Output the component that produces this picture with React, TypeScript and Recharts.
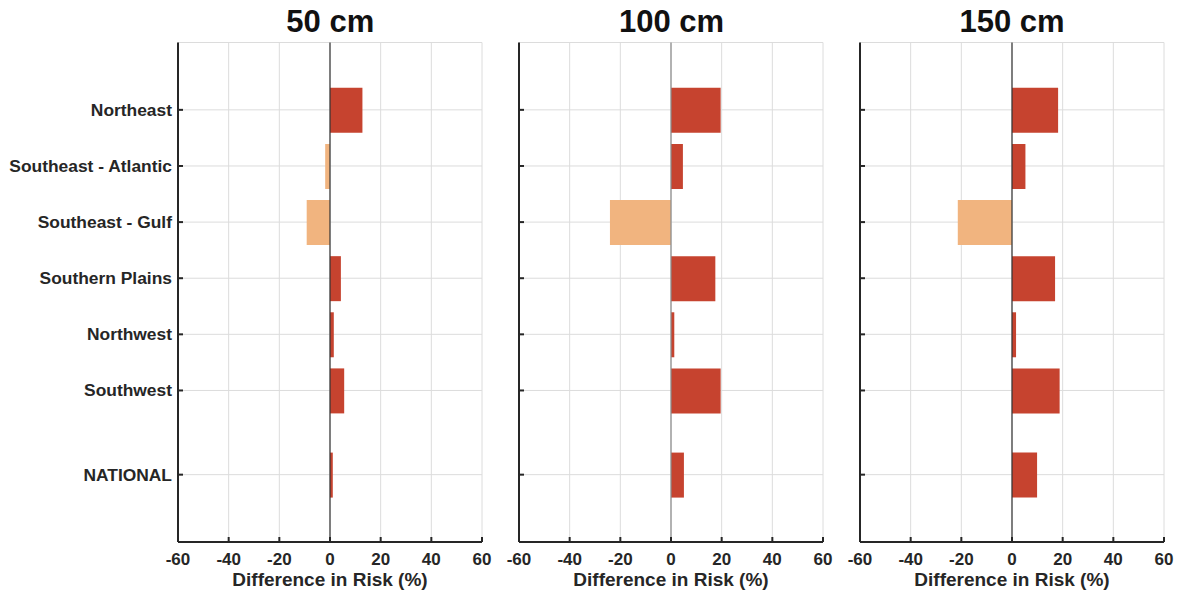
import React from 'react';
import { BarChart, Bar, XAxis, YAxis, CartesianGrid, ReferenceLine, Cell, Label } from 'recharts';

const regions = ['Northeast', 'Southeast - Atlantic', 'Southeast - Gulf', 'Southern Plains', 'Northwest', 'Southwest', 'NATIONAL'];
// row slots on the category axis (NATIONAL sits half a row lower)
const rowSlot = [1, 2, 3, 4, 5, 6, 7.5];

const diff50 = [12.8, -1.9, -9.2, 4.3, 1.5, 5.6, 1.1];
const diff100 = [19.6, 4.7, -24.1, 17.5, 1.3, 19.6, 5.1];
const diff150 = [18.2, 5.3, -21.4, 17.0, 1.6, 18.8, 9.9];

const xTicks = [-60, -40, -20, 0, 20, 40, 60];
const titles = ['50 cm', '100 cm', '150 cm'];

const FONT = '"Liberation Sans", Arial, Helvetica, sans-serif';
const AXIS = '#262626';
const RED = '#C6432F';
const ORANGE = '#F1B47F';

const XTick = (props: any) => {
    const { x, y, payload } = props;
    return (
        <g>
            <line x1={x} y1={y} x2={x} y2={y - 5} stroke={AXIS} strokeWidth={2} />
            <text x={x} y={y + 23} textAnchor="middle" fontSize={17} fontWeight="bold" fill={AXIS} fontFamily={FONT}>
                {payload.value}
            </text>
        </g>
    );
};

const makeYTick = (showLabels: boolean) => (props: any) => {
    const { x, y, payload } = props;
    const idx = rowSlot.indexOf(payload.value);
    return (
        <g>
            <line x1={x} y1={y} x2={x + 5} y2={y} stroke={AXIS} strokeWidth={2} />
            {showLabels && (
                <text x={x - 6} y={y + 6} textAnchor="end" fontSize={17.4} fontWeight="bold" fill={AXIS} fontFamily={FONT}>
                    {regions[idx]}
                </text>
            )}
        </g>
    );
};

const panels = [
    { values: diff50, left: 0, width: 500, yWidth: 178, right: 18, labels: true, zero: '#333333' },
    { values: diff100, left: 500, width: 340, yWidth: 19, right: 17, labels: false, zero: '#8a8a8a' },
    { values: diff150, left: 840, width: 339, yWidth: 20, right: 15, labels: false, zero: '#333333' },
];

const Panel: React.FC<{ p: typeof panels[number] }> = ({ p }) => {
    const data = regions.map((name, i) => ({ name, slot: rowSlot[i], value: p.values[i] }));
    return (
        <div style={{ position: 'absolute', left: p.left, top: 0 }}>
            <BarChart
                width={p.width}
                height={592}
                data={data}
                layout="vertical"
                margin={{ top: 42.5, right: p.right, left: 0, bottom: 6 }}
            >
                <CartesianGrid stroke="#dcdcdc" strokeWidth={1} />
                <XAxis
                    type="number"
                    domain={[-60, 60]}
                    ticks={xTicks}
                    allowDataOverflow
                    height={44}
                    tickSize={0}
                    tickMargin={0}
                    tickLine={false}
                    axisLine={{ stroke: AXIS, strokeWidth: 2 }}
                    tick={<XTick />}
                    interval={0}
                >
                    <Label
                        value="Difference in Risk (%)"
                        position="insideBottom"
                        offset={0}
                        style={{ fontSize: 19, fontWeight: 'bold', fill: AXIS, fontFamily: FONT }}
                    />
                </XAxis>
                <YAxis
                    type="number"
                    dataKey="slot"
                    domain={[-0.2, 8.7]}
                    allowDataOverflow
                    ticks={rowSlot}
                    interval={0}
                    width={p.yWidth}
                    tickSize={0}
                    tickMargin={0}
                    tickLine={false}
                    axisLine={{ stroke: AXIS, strokeWidth: 2 }}
                    tick={makeYTick(p.labels)}
                />
                <Bar dataKey="value" barSize={45} isAnimationActive={false}>
                    {data.map((d, i) => (
                        <Cell key={`c-${i}`} fill={d.value < 0 ? ORANGE : RED} stroke="none" />
                    ))}
                </Bar>
                <ReferenceLine x={0} stroke={p.zero} strokeWidth={1.2} />
            </BarChart>
        </div>
    );
};

const App: React.FC = () => {
    return (
        <div style={{ position: 'absolute', left: 0, top: 0, width: 1179, height: 592, background: '#fff' }}>
            {panels.map((p, i) => (
                <Panel key={i} p={p} />
            ))}
            <svg width={1179} height={40} style={{ position: 'absolute', left: 0, top: 0 }}>
                {[330.3, 671.5, 1012].map((cx, i) => (
                    <text key={i} x={cx} y={31.5} textAnchor="middle" fontSize={31} fontWeight="bold" fill="#111" fontFamily={FONT}>
                        {titles[i]}
                    </text>
                ))}
            </svg>
        </div>
    );
};

export default App;
